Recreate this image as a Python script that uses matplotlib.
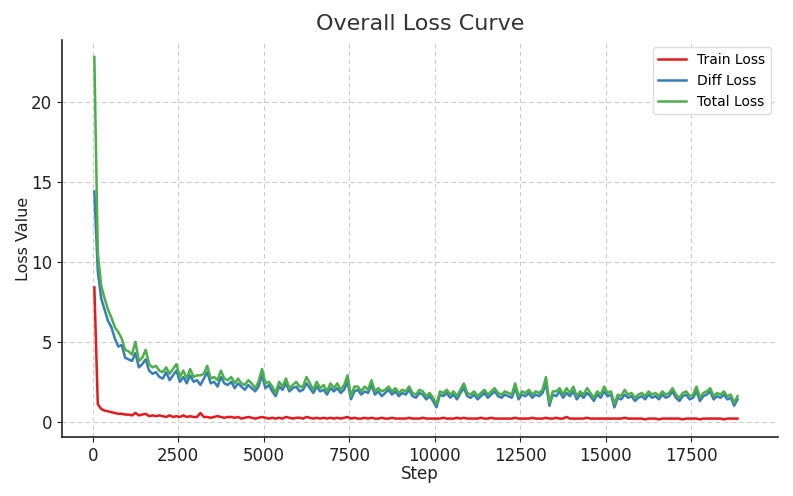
import numpy as np
import matplotlib
matplotlib.use("Agg")
import matplotlib.pyplot as plt

steps = np.arange(50, 18900, 100)

train_loss = [
    8.4, 1.1, 0.8, 0.7, 0.65, 0.6, 0.55, 0.5, 0.5, 0.45,
    0.45, 0.4, 0.55, 0.4, 0.45, 0.5, 0.35, 0.4, 0.35, 0.4,
    0.35, 0.3, 0.4, 0.3, 0.35, 0.3, 0.4, 0.3, 0.35, 0.3,
    0.3, 0.55, 0.3, 0.3, 0.25, 0.3, 0.35, 0.3, 0.25, 0.3,
    0.3, 0.25, 0.3, 0.2, 0.25, 0.3, 0.25, 0.2, 0.25, 0.3,
    0.25, 0.2, 0.25, 0.2, 0.25, 0.2, 0.3, 0.25, 0.2, 0.25,
    0.25, 0.2, 0.3, 0.25, 0.2, 0.25, 0.2, 0.25, 0.2, 0.25,
    0.2, 0.25, 0.2, 0.25, 0.3, 0.2, 0.25, 0.2, 0.2, 0.25,
    0.2, 0.25, 0.2, 0.2, 0.25, 0.2, 0.2, 0.25, 0.2, 0.2,
    0.2, 0.2, 0.25, 0.2, 0.2, 0.2, 0.25, 0.2, 0.2, 0.2,
    0.2, 0.2, 0.25, 0.2, 0.2, 0.2, 0.25, 0.2, 0.25, 0.2,
    0.2, 0.2, 0.2, 0.25, 0.2, 0.2, 0.25, 0.2, 0.2, 0.2,
    0.2, 0.2, 0.2, 0.25, 0.2, 0.2, 0.2, 0.2, 0.25, 0.2,
    0.2, 0.2, 0.25, 0.2, 0.2, 0.25, 0.2, 0.2, 0.3, 0.2,
    0.2, 0.2, 0.2, 0.2, 0.25, 0.2, 0.2, 0.2, 0.2, 0.2,
    0.2, 0.2, 0.2, 0.2, 0.2, 0.25, 0.2, 0.2, 0.2, 0.2,
    0.2, 0.15, 0.2, 0.2, 0.2, 0.15, 0.2, 0.2, 0.2, 0.2,
    0.2, 0.2, 0.15, 0.2, 0.2, 0.2, 0.2, 0.15, 0.2, 0.2,
    0.2, 0.2, 0.2, 0.2, 0.15, 0.2, 0.2, 0.2, 0.2,
]

diff_loss = [
    14.4, 9.4, 7.7, 7.0, 6.3, 5.9, 5.2, 4.7, 4.8, 4.0,
    3.9, 3.8, 4.3, 3.4, 3.6, 3.9, 3.2, 3.0, 3.1, 2.8,
    2.7, 3.1, 2.6, 2.9, 3.2, 2.5, 2.8, 2.4, 2.9, 2.5,
    2.6, 2.3, 2.7, 3.1, 2.4, 2.5, 2.2, 2.8, 2.4, 2.3,
    2.5, 2.1, 2.4, 2.2, 2.0, 2.3, 2.1, 1.9, 2.2, 2.9,
    2.1, 2.3, 1.9, 1.6, 2.2, 2.0, 2.4, 1.9, 2.1, 2.2,
    1.9, 2.0, 2.4, 2.1, 1.8, 2.2, 1.9, 2.0, 1.7, 2.1,
    1.9, 2.1, 1.8, 2.0, 2.5, 1.4, 1.9, 2.0, 1.7, 1.9,
    1.8, 2.3, 1.7, 1.9, 1.6, 1.8, 2.0, 1.7, 1.9, 1.6,
    1.8, 1.7, 2.0, 1.6, 1.5, 1.8, 1.7, 1.4, 1.6, 1.3,
    0.9, 1.7, 1.6, 1.8, 1.5, 1.7, 1.4, 1.8, 2.1, 1.6,
    1.5, 1.7, 1.4, 1.6, 1.8, 1.5, 1.7, 1.9, 1.6, 1.5,
    1.7, 1.6, 1.5, 2.1, 1.4, 1.7, 1.6, 1.8, 1.5, 1.7,
    1.6, 1.8, 2.4, 1.0, 1.7, 1.6, 1.9, 1.5, 1.8, 1.6,
    1.9, 1.4, 1.7, 1.5, 1.8, 1.6, 1.3, 1.7, 1.5, 1.9,
    1.6, 1.7, 0.9, 1.5, 1.4, 1.7, 1.5, 1.6, 1.3, 1.5,
    1.6, 1.4, 1.7, 1.5, 1.6, 1.4, 1.7, 1.5, 1.6, 1.9,
    1.5, 1.3, 1.6, 1.7, 1.4, 1.5, 1.9, 1.3, 1.6, 1.7,
    1.9, 1.4, 1.6, 1.5, 1.7, 1.4, 1.5, 1.0, 1.4,
]

total_loss = [
    22.8, 10.6, 8.5, 7.7, 7.0, 6.5, 5.9, 5.6, 5.2, 4.5,
    4.4, 4.2, 5.0, 3.8, 4.0, 4.5, 3.6, 3.4, 3.5, 3.2,
    3.1, 3.4, 3.0, 3.3, 3.6, 2.8, 3.2, 2.7, 3.3, 2.8,
    2.9, 2.9, 3.0, 3.5, 2.7, 2.8, 2.6, 3.2, 2.7, 2.6,
    2.8, 2.4, 2.7, 2.4, 2.3, 2.6, 2.4, 2.1, 2.5, 3.3,
    2.4, 2.5, 2.2, 1.8, 2.5, 2.2, 2.7, 2.1, 2.3, 2.5,
    2.2, 2.2, 2.8, 2.4, 2.0, 2.5, 2.1, 2.3, 1.9, 2.4,
    2.1, 2.4, 2.0, 2.3, 2.9, 1.6, 2.2, 2.2, 1.9, 2.2,
    2.0, 2.6, 1.9, 2.1, 1.9, 2.0, 2.2, 1.9, 2.1, 1.8,
    2.0, 1.9, 2.2, 1.8, 1.7, 2.0, 1.9, 1.6, 1.8, 1.5,
    1.1, 1.9, 1.8, 2.0, 1.7, 1.9, 1.6, 2.0, 2.4, 1.8,
    1.7, 1.9, 1.6, 1.8, 2.0, 1.7, 1.9, 2.1, 1.8, 1.7,
    1.9, 1.8, 1.7, 2.4, 1.6, 1.9, 1.8, 2.0, 1.7, 1.9,
    1.8, 2.0, 2.8, 1.2, 1.9, 1.9, 2.1, 1.7, 2.1, 1.8,
    2.2, 1.6, 1.9, 1.7, 2.1, 1.8, 1.5, 1.9, 1.7, 2.2,
    1.8, 1.9, 1.1, 1.7, 1.6, 2.0, 1.7, 1.8, 1.5, 1.7,
    1.8, 1.6, 1.9, 1.7, 1.8, 1.6, 1.9, 1.7, 1.8, 2.1,
    1.7, 1.5, 1.8, 1.9, 1.6, 1.7, 2.2, 1.5, 1.8, 1.9,
    2.1, 1.6, 1.8, 1.7, 1.9, 1.6, 1.7, 1.2, 1.6,
]

series_names = ["Train Loss", "Diff Loss", "Total Loss"]
colors = ["#e41a1c", "#377eb8", "#4daf4a"]

fig = plt.figure(figsize=(7.93, 4.96), dpi=100)
ax = fig.add_axes([0.078, 0.119, 0.903, 0.800])

for name, vals, c in zip(series_names, [train_loss, diff_loss, total_loss], colors):
    ax.plot(steps, vals, color=c, lw=1.8, label=name)

ax.set_xlim(-900, 20030)
ax.set_ylim(-0.95, 23.85)
ax.set_xticks([0, 2500, 5000, 7500, 10000, 12500, 15000, 17500])
ax.set_yticks([0, 5, 10, 15, 20])

ax.grid(True, linestyle=(0, (4, 3)), color="#cccccc", linewidth=0.8)
ax.set_axisbelow(True)
for s in ["top", "right"]:
    ax.spines[s].set_visible(False)
for s in ["left", "bottom"]:
    ax.spines[s].set_color("#222222")
    ax.spines[s].set_linewidth(1.2)

ax.tick_params(labelsize=12, colors="#222222")
ax.set_title("Overall Loss Curve", fontsize=16, color="#333333", pad=7)
ax.set_xlabel("Step", fontsize=12, color="#222222", labelpad=0)
ax.set_ylabel("Loss Value", fontsize=11.5, color="#222222", labelpad=0)
ax.legend(loc="upper right", fontsize=10, framealpha=1.0, edgecolor="#dddddd")

fig.savefig("out.png", dpi=100)
